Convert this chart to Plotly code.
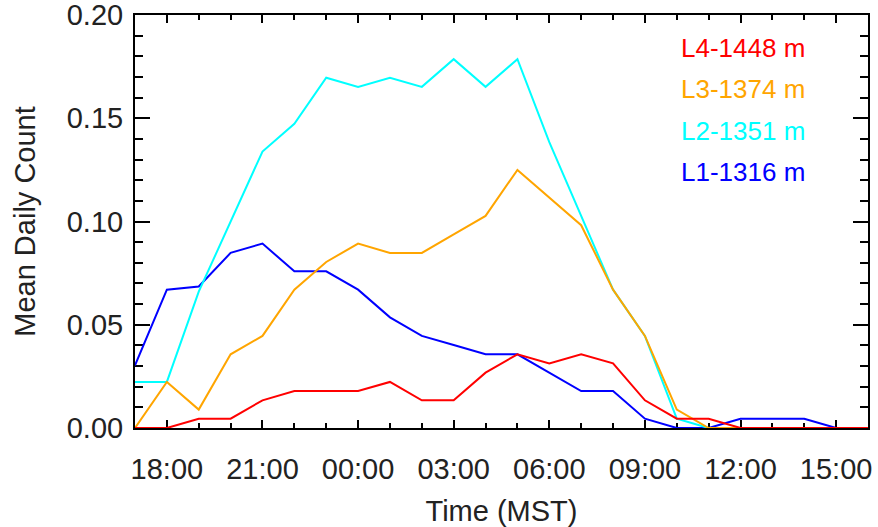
import plotly.graph_objects as go

hours = list(range(17, 41))
tick_vals = [18, 21, 24, 27, 30, 33, 36, 39]
tick_text = ["18:00", "21:00", "00:00", "03:00", "06:00", "09:00", "12:00", "15:00"]
y_tick_vals = [0.0, 0.05, 0.10, 0.15, 0.20]
y_tick_text = ["0.00", "0.05", "0.10", "0.15", "0.20"]

series_names = ["L4-1448 m", "L3-1374 m", "L2-1351 m", "L1-1316 m"]
series_colors = ["#ff0000", "#ffa500", "#00ffff", "#0000ff"]

L4 = [0.0, 0.0, 0.0045, 0.0045, 0.0134, 0.0179, 0.0179, 0.0179, 0.0223, 0.0134,
      0.0134, 0.0268, 0.0357, 0.0313, 0.0357, 0.0313, 0.0134, 0.0045, 0.0045, 0.0,
      0.0, 0.0, 0.0, 0.0]
L3 = [0.0, 0.0223, 0.0089, 0.0357, 0.0446, 0.0670, 0.0804, 0.0893, 0.0848, 0.0848,
      0.0938, 0.1027, 0.1250, 0.1116, 0.0982, 0.0670, 0.0446, 0.0089, 0.0, 0.0,
      0.0, 0.0, 0.0, 0.0]
L2 = [0.0223, 0.0223, 0.0660, 0.1000, 0.1339, 0.1473, 0.1696, 0.1652, 0.1696, 0.1652,
      0.1786, 0.1652, 0.1786, 0.1384, 0.1030, 0.0670, 0.0446, 0.0045, 0.0, 0.0,
      0.0, 0.0, 0.0, 0.0]
L1 = [0.0303, 0.0670, 0.0685, 0.0848, 0.0893, 0.0759, 0.0759, 0.0670, 0.0536, 0.0446,
      0.0402, 0.0357, 0.0357, 0.0268, 0.0179, 0.0179, 0.0045, 0.0, 0.0, 0.0045,
      0.0045, 0.0045, 0.0, 0.0]

series_values = [L4, L3, L2, L1]

FONT = "Liberation Sans, Arial, Helvetica, sans-serif"
TXT = "#222222"

fig = go.Figure()
# draw L1 first, L4 last (L4 on top)
for name, color, vals in reversed(list(zip(series_names, series_colors, series_values))):
    fig.add_trace(go.Scatter(x=hours, y=vals, mode="lines", name=name,
                             line=dict(color=color, width=2), showlegend=False,
                             cliponaxis=False))

legend_y = [0.921, 0.822, 0.720, 0.621]
for name, color, ly in zip(series_names, series_colors, legend_y):
    fig.add_annotation(x=0.742, y=ly, xref="paper", yref="paper", text=name,
                       showarrow=False, xanchor="left", yanchor="middle",
                       font=dict(family=FONT, size=26, color=color))

fig.update_layout(
    width=878, height=527,
    margin=dict(l=135, r=10, t=14.5, b=99.3, pad=0),
    paper_bgcolor="white", plot_bgcolor="white",
    font=dict(family=FONT, size=29, color=TXT),
)
fig.update_xaxes(
    range=[17, 40], tickmode="array", tickvals=tick_vals, ticktext=tick_text,
    showline=True, linecolor="black", linewidth=2, mirror="ticks",
    ticks="inside", ticklen=8, tickwidth=2, tickcolor="black",
    minor=dict(tickmode="linear", tick0=17, dtick=1, ticks="inside", ticklen=5,
               tickwidth=2, tickcolor="black", showgrid=False),
    showgrid=False, zeroline=False, ticklabelstandoff=14, automargin=False,
    ticklabeloverflow="allow", layer="below traces",
    title=dict(text="Time (MST)", standoff=18, font=dict(size=29)),
)
fig.update_yaxes(
    range=[0, 0.20], tickmode="array", tickvals=y_tick_vals, ticktext=y_tick_text,
    showline=True, linecolor="black", linewidth=2, mirror="ticks",
    ticks="inside", ticklen=15, tickwidth=2, tickcolor="black",
    minor=dict(tickmode="linear", tick0=0, dtick=0.01, ticks="inside", ticklen=8,
               tickwidth=2, tickcolor="black", showgrid=False),
    showgrid=False, zeroline=False, ticklabelstandoff=4, automargin=False,
    ticklabeloverflow="allow", layer="below traces",
    title=dict(text="Mean Daily Count", standoff=23, font=dict(size=29)),
)

fig.write_html("out.html")
